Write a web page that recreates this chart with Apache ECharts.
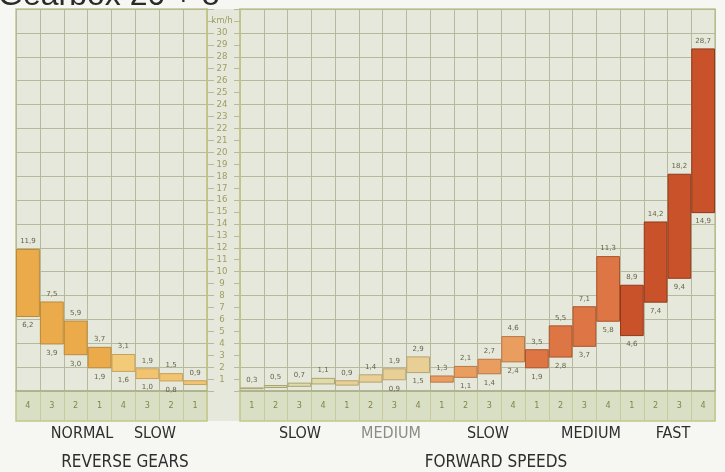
<!DOCTYPE html>
<html><head><meta charset="utf-8">
<script src="https://cdn.jsdelivr.net/npm/echarts@6/dist/echarts.min.js"></script>
<style>html,body{margin:0;padding:0;background:#f6f6f2;}#c{width:725px;height:472px;}</style>
</head><body><div id="c"></div>
<script>
// ---- data ----
const title = 'Gearbox 20 + 8';
const revCats = ['4','3','2','1','4','3','2','1'];
const revHigh = [11.9, 7.5, 5.9, 3.7, 3.1, 1.9, 1.5, 0.9];
const revLow  = [6.2, 3.9, 3.0, 1.9, 1.6, 1.0, 0.8, 0.5];
const revShowLow = [1,1,1,1,1,1,1,0];
const revGroups = ['NORMAL', 'SLOW'];
const revTitle = 'REVERSE GEARS';

const fwdCats = ['1','2','3','4','1','2','3','4','1','2','3','4','1','2','3','4','1','2','3','4'];
const fwdHigh = [0.3, 0.5, 0.7, 1.1,  0.9, 1.4, 1.9, 2.9,  1.3, 2.1, 2.7, 4.6,  3.5, 5.5, 7.1, 11.3,  8.9, 14.2, 18.2, 28.7];
const fwdLow  = [0.15,0.25,0.35,0.55, 0.45,0.7, 0.9, 1.5,  0.7, 1.1, 1.4, 2.4,  1.9, 2.8, 3.7, 5.8,   4.6, 7.4, 9.4, 14.9];
const fwdShowLow = [0,0,0,0, 0,0,1,1, 0,1,1,1, 1,1,1,1, 1,1,1,1];
const fwdGroups = ['SLOW', 'MEDIUM', 'SLOW', 'MEDIUM', 'FAST'];
const fwdTitle = 'FORWARD SPEEDS';
const yLabels = [1,2,3,4,5,6,7,8,9,10,11,12,13,14,15,16,17,18,19,20,21,22,23,24,25,26,27,28,29,30];
const yUnit = 'km/h';

// ---- styles ----
const revFill = ['#ecab4b','#ecab4b','#ecab4b','#ecab4b','#f3ca78','#f2c470','#f2c470','#f2c470'];
const revEdge = ['#b98a3a','#b98a3a','#b98a3a','#b98a3a','#c4a260','#c4a260','#c4a260','#c4a260'];
const fwdGroupFill = ['#e0dbab','#e7cf96','#e99e60','#dd7644','#c9522a'];
const fwdGroupEdge = ['#a9a572','#b8a472','#b7784a','#a9562f','#8f3a1c'];
const fwdFill = fwdCats.map((c,i)=>fwdGroupFill[Math.floor(i/4)]);
const fwdEdge = fwdCats.map((c,i)=>fwdGroupEdge[Math.floor(i/4)]);

const BG = '#e5e8da', GRID = '#b5ba9c', FRAME = '#c3c687', AXTXT = '#a09d62', LBL = '#66644a';
const fmt = v => v.toFixed(1).replace('.', ',');

const chart = echarts.init(document.getElementById('c'), null, {renderer:'canvas'});

function mainY(idx, pos, showLabels) {
  return {
    type:'value', gridIndex: idx, position: pos, min:0, max:32, interval:1,
    axisLine:{show:true, lineStyle:{color:FRAME, width:1.5}},
    axisTick:{show:true, length: pos==='right'?7:6, lineStyle:{color:GRID}},
    axisLabel:{show:showLabels, margin:18, align:'center', fontSize:9.5, color:AXTXT,
      fontFamily:'Liberation Sans Narrow, DejaVu Sans Condensed, sans-serif',
      formatter: v => (yLabels.indexOf(v) >= 0 ? String(v) : (v === 31 ? yUnit : ''))},
    splitLine:{show:true, lineStyle:{color:[GRID, 'rgba(0,0,0,0)'], width:1}}
  };
}
function mainX(idx, cats) {
  return {
    type:'category', gridIndex: idx, data: cats,
    axisLine:{show:true, lineStyle:{color:'#aab08e', width:1.5}},
    axisTick:{show:false}, axisLabel:{show:false},
    splitLine:{show:true, lineStyle:{color:GRID, width:1}}
  };
}
function stripX(idx, cats) {
  return {
    type:'category', gridIndex: idx, data: cats, position:'top',
    axisLine:{show:false}, axisTick:{show:false},
    axisLabel:{show:true, inside:true, margin:10, fontSize:9, color:'#85834c',
      fontFamily:'Liberation Sans Narrow, DejaVu Sans Condensed, sans-serif'},
    splitLine:{show:true, lineStyle:{color:'#c8cb98', width:1}}
  };
}
function stripY(idx) {
  return {type:'value', gridIndex: idx, show:false, min:0, max:1};
}
function makeSeries(gi, high, low, showLow, fill, edge) {
  const lblBase = {fontSize:7, color:LBL, fontFamily:'DejaVu Sans, sans-serif'};
  return [
    {type:'bar', xAxisIndex:gi, yAxisIndex:gi, stack:'s'+gi, barWidth:'100%', silent:true,
     data: low.map((v,i)=>({value:v, label:{show: !!showLow[i]}})),
     itemStyle:{color:'rgba(0,0,0,0)'},
     label:Object.assign({show:true, position:'insideTop', distance:5,
       formatter:p=>fmt(low[p.dataIndex])}, lblBase)},
    {type:'bar', xAxisIndex:gi, yAxisIndex:gi, stack:'s'+gi, barWidth:'100%',
     data: high.map((v,i)=>({value:+(v-low[i]).toFixed(2), itemStyle:{color:fill[i], borderColor:edge[i]}})),
     itemStyle:{borderWidth:1},
     label:Object.assign({show:true, position:'top', distance:4,
       formatter:p=>fmt(high[p.dataIndex])}, lblBase)}
  ];
}

const txtFont = (size) => size + 'px "Liberation Sans Narrow", "DejaVu Sans Condensed", sans-serif';
const revGroupX = [82, 155];
const fwdGroupX = [300, 391, 488, 591, 673];
const graphics = [
  {type:'rect', z:-1, shape:{x:207, y:9, width:33, height:412}, style:{fill:BG}},
  {type:'text', x:-2, y:-20, style:{text:title, font:'32px "Liberation Sans", Arial, sans-serif', fill:'#2a2a2a'}},
  {type:'text', x:125, y:463, style:{text:revTitle, font:txtFont(17), fill:'#2e2e2e', textAlign:'center', textVerticalAlign:'middle'}},
  {type:'text', x:496, y:463, style:{text:fwdTitle, font:txtFont(17), fill:'#2e2e2e', textAlign:'center', textVerticalAlign:'middle'}}
];
revGroups.forEach((g,i)=>graphics.push({type:'text', x:revGroupX[i], y:434,
  style:{text:g, font:txtFont(16), fill:'#2e2e2e', textAlign:'center', textVerticalAlign:'middle'}}));
fwdGroups.forEach((g,i)=>graphics.push({type:'text', x:fwdGroupX[i], y:434,
  style:{text:g, font:txtFont(16), fill: i===1 ? '#8c8c86' : '#2e2e2e', textAlign:'center', textVerticalAlign:'middle'}}));

const option = {
  backgroundColor:'#f6f6f2',
  animation:false,
  grid:[
    {left:16, top:9, width:191, height:382, show:true, backgroundColor:BG, borderColor:FRAME, borderWidth:1.5},
    {left:240, top:9, width:475, height:382, show:true, backgroundColor:BG, borderColor:FRAME, borderWidth:1.5},
    {left:16, top:391, width:191, height:30, show:true, backgroundColor:'#d9dfc4', borderColor:FRAME, borderWidth:1.5},
    {left:240, top:391, width:475, height:30, show:true, backgroundColor:'#d9dfc4', borderColor:FRAME, borderWidth:1.5}
  ],
  xAxis:[mainX(0, revCats), mainX(1, fwdCats), stripX(2, revCats), stripX(3, fwdCats)],
  yAxis:[mainY(0,'right',false), mainY(1,'left',true), stripY(2), stripY(3)],
  series:[].concat(
    makeSeries(0, revHigh, revLow, revShowLow, revFill, revEdge),
    makeSeries(1, fwdHigh, fwdLow, fwdShowLow, fwdFill, fwdEdge)
  ),
  graphic: graphics
};
chart.setOption(option);
</script>
</body></html>
